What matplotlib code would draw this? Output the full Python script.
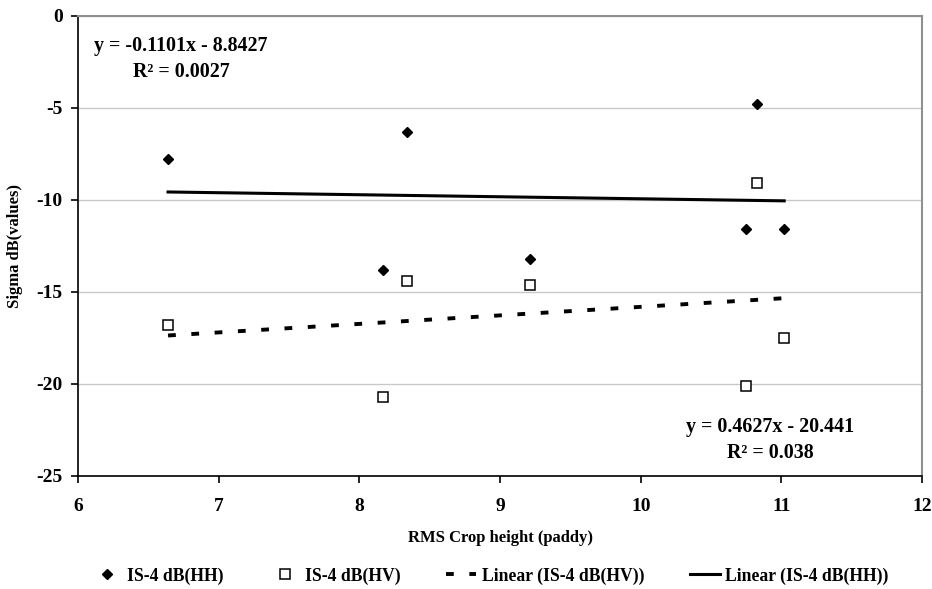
import matplotlib
matplotlib.use("Agg")
from matplotlib import pyplot as plt
import numpy as np

plt.rcParams['font.family'] = ['Liberation Serif', 'DejaVu Serif']
plt.rcParams['font.weight'] = 'bold'
plt.rcParams['axes.unicode_minus'] = False

# crop height (x) for each paddy field
rms_height = [6.64, 8.17, 8.34, 9.21, 10.75, 10.83, 11.02]
# backscatter values
hh_db = [-7.8, -13.8, -6.3, -13.2, -11.6, -4.8, -11.6]
hv_db = [-16.8, -20.7, -14.4, -14.6, -20.1, -9.1, -17.5]
# trendline coefficients shown on the chart
hh_fit = (-0.1101, -8.8427)
hv_fit = (0.4627, -20.441)

fig = plt.figure(figsize=(9.32, 5.89), dpi=100)
ax = fig.add_axes([0.0837, 0.1919, 0.9056, 0.7814])

xs = np.array([min(rms_height), max(rms_height)])

ax.plot(rms_height, hh_db, linestyle='none', marker='D', markersize=5.5,
        color='black', label='IS-4 dB(HH)', zorder=3)
ax.plot(rms_height, hv_db, linestyle='none', marker='s', markersize=7,
        markerfacecolor='white', markeredgecolor='black', markeredgewidth=1.1,
        label='IS-4 dB(HV)', zorder=3)
ax.plot(xs, hv_fit[0] * xs + hv_fit[1], color='black', linewidth=2.8,
        dashes=(2, 4), label='Linear (IS-4 dB(HV))')
ax.plot(xs, hh_fit[0] * xs + hh_fit[1], color='black', linewidth=2.2,
        label='Linear (IS-4 dB(HH))')

ax.set_xlim(6, 12)
ax.set_ylim(-25, 0)
ax.set_xticks(range(6, 13))
ax.set_yticks(range(-25, 1, 5))
ax.yaxis.grid(True, color='#c8c8c8', linewidth=1)
ax.set_axisbelow(True)
for s in ['top', 'right']:
    ax.spines[s].set_color('#909090')
    ax.spines[s].set_linewidth(1.5)
for s in ['left', 'bottom']:
    ax.spines[s].set_linewidth(1.2)
ax.tick_params(axis='both', labelsize=14, width=1.2, length=5, direction='out')
ax.tick_params(axis='x', pad=11)
ax.tick_params(axis='y', pad=6)
for lbl in ax.get_xticklabels() + ax.get_yticklabels():
    lbl.set_fontweight('bold')

ax.set_xlabel('RMS Crop height (paddy)', fontsize=12, fontweight='bold', labelpad=11)
ax.set_ylabel('Sigma dB(values)', fontsize=12, fontweight='bold', labelpad=10)

fig.text(181 / 932, 1 - 59 / 589, 'y = -0.1101x - 8.8427\nR² = 0.0027',
         fontsize=14.4, fontweight='bold', ha='center', va='center', linespacing=1.35)
fig.text(770 / 932, 1 - 440 / 589, 'y = 0.4627x - 20.441\nR² = 0.038',
         fontsize=14.4, fontweight='bold', ha='center', va='center', linespacing=1.35)

fig.legend(loc='center', bbox_to_anchor=(0.526, 1 - 576 / 589), ncol=4, frameon=False,
           prop={'size': 12.7, 'weight': 'bold'}, handlelength=1.7, handletextpad=0.3,
           columnspacing=2.6)

fig.savefig('out.png', dpi=100)
